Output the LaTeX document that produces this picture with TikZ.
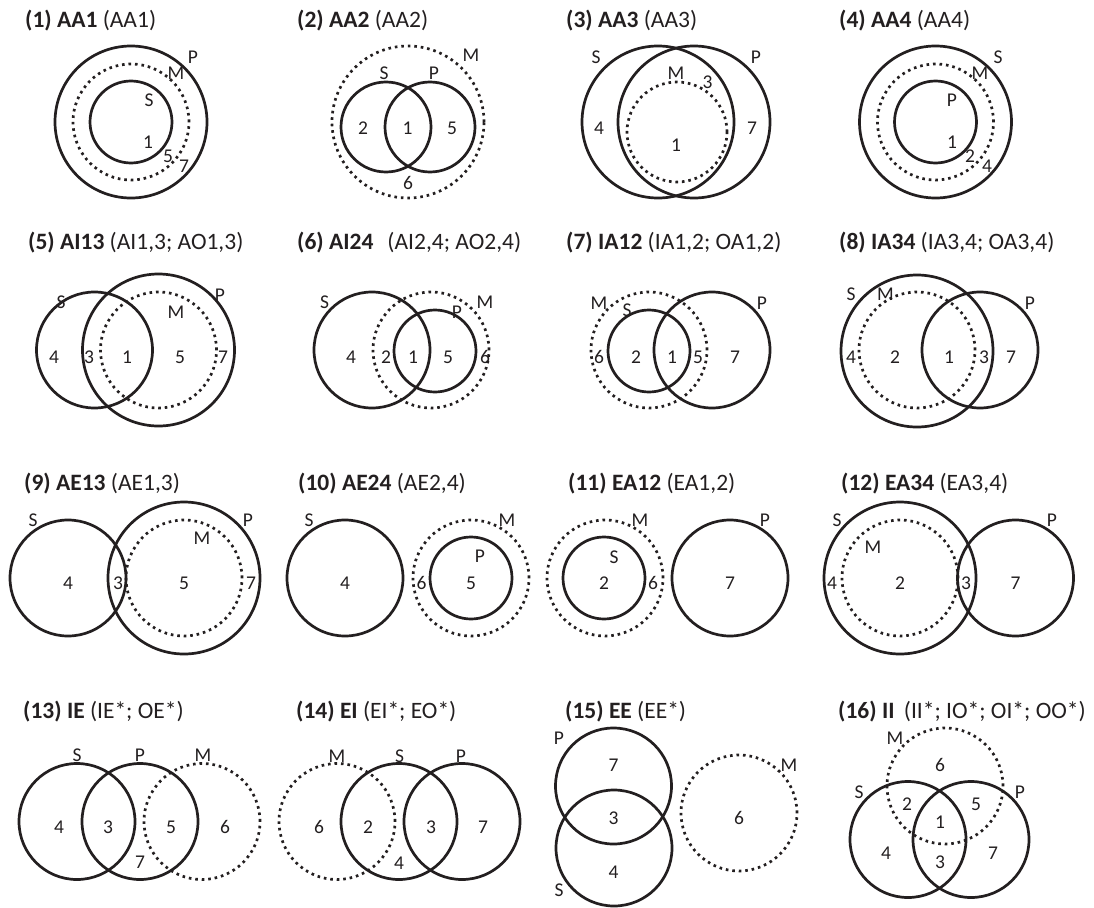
\documentclass[tikz,border=0pt]{standalone}
\usepackage{fontspec}
\setmainfont{Carlito}
\definecolor{ink}{RGB}{35,31,32}

\begin{document}
\begin{tikzpicture}[
    x=1pt, y=-1pt,
    term/.style={circle, draw=ink, line width=2.7pt, inner sep=0pt, minimum size=#1pt},
    mid/.style={term=#1, dash pattern=on 2.6pt off 3.9pt},
    lbl/.style={inner sep=0pt, text=ink, font=\fontsize{19.5}{22}\selectfont},
    ttl/.style={anchor=base west, inner sep=0pt, text=ink, font=\fontsize{23.5}{27}\selectfont}
]
    \useasboundingbox (0,0) rectangle (1094,907);

    % row 1: AA moods, circles of 152, 116 and 82 across
    \node[ttl] (t1) at (25,28) {\textbf{(1) AA1} (AA1)};
    \node[term=152] (P1) at (131,122) {};
    \node[mid=116]  (M1) at (131,122) {};
    \node[term=82]  (S1) at (131,122) {};
    \node[lbl] (P1t) at (193,57)  {P};
    \node[lbl] (M1t) at (176,73)  {M};
    \node[lbl] (S1t) at (149,100) {S};
    \node[lbl] (r1-1) at (148,142) {1};
    \node[lbl] (r1-5) at (168,156) {5};
    \node[lbl] (r1-7) at (184,166) {7};

    \node[ttl] (t2) at (297,28) {\textbf{(2) AA2} (AA2)};
    \node[mid=152] (M2) at (408,122) {};
    \node[term=90] (S2) at (386,127) {};
    \node[term=90] (P2) at (430,127) {};
    \node[lbl] (M2t) at (471,55) {M};
    \node[lbl] (S2t) at (384,73) {S};
    \node[lbl] (P2t) at (434,73) {P};
    \node[lbl] (r2-2) at (363,128) {2};
    \node[lbl] (r2-1) at (407.5,128) {1};
    \node[lbl] (r2-5) at (452,128) {5};
    \node[lbl] (r2-6) at (408,183) {6};

    \node[ttl] (t3) at (566,28) {\textbf{(3) AA3} (AA3)};
    \node[term=152] (S3) at (658,122) {};
    \node[term=152] (P3) at (694,122) {};
    \node[mid=100]  (M3) at (677,132) {};
    \node[lbl] (S3t) at (596,57) {S};
    \node[lbl] (P3t) at (756,57) {P};
    \node[lbl] (M3t) at (676,73) {M};
    \node[lbl] (r3-3) at (707.5,82) {3};
    \node[lbl] (r3-4) at (599,128) {4};
    \node[lbl] (r3-7) at (752,128) {7};
    \node[lbl] (r3-1) at (676,145) {1};

    \node[ttl] (t4) at (839,28) {\textbf{(4) AA4} (AA4)};
    \node[term=152] (S4) at (935.5,122) {};
    \node[mid=116]  (M4) at (935.5,122) {};
    \node[term=82]  (P4) at (935.5,122) {};
    \node[lbl] (S4t) at (998,57) {S};
    \node[lbl] (M4t) at (980,73) {M};
    \node[lbl] (P4t) at (952,100) {P};
    \node[lbl] (r4-1) at (952,142) {1};
    \node[lbl] (r4-2) at (970,156) {2};
    \node[lbl] (r4-4) at (987,166) {4};

    % row 2: AI and IA
    \node[ttl] (t5) at (28,249) {\textbf{(5) AI13} (AI1,3; AO1,3)};
    \node[term=152] (P5) at (158.5,350) {};
    \node[mid=116]  (M5) at (158.5,350) {};
    \node[term=116] (S5) at (94.5,350) {};
    \node[lbl] (S5t) at (61,302) {S};
    \node[lbl] (P5t) at (220,295) {P};
    \node[lbl] (M5t) at (176,312) {M};
    \node[lbl] (r5-4) at (54,357) {4};
    \node[lbl] (r5-3) at (89,357) {3};
    \node[lbl] (r5-1) at (127,357) {1};
    \node[lbl] (r5-5) at (180,357) {5};
    \node[lbl] (r5-7) at (223,357) {7};

    \node[ttl] (t6) at (297,249) {\textbf{(6) AI24}\hspace{0.6em}(AI2,4; AO2,4)};
    \node[term=116] (S6) at (372,350) {};
    \node[mid=116]  (M6) at (431,350) {};
    \node[term=82]  (P6) at (435,351) {};
    \node[lbl] (S6t) at (324.5,302) {S};
    \node[lbl] (M6t) at (485,302) {M};
    \node[lbl] (P6t) at (457,312) {P};
    \node[lbl] (r6-4) at (351,357) {4};
    \node[lbl] (r6-2) at (386,357) {2};
    \node[lbl] (r6-1) at (413,357) {1};
    \node[lbl] (r6-5) at (448,357) {5};
    \node[lbl] (r6-6) at (485,357) {6};

    \node[ttl] (t7) at (566,249) {\textbf{(7) IA12} (IA1,2; OA1,2)};
    \node[mid=116]  (M7) at (649,350) {};
    \node[term=82]  (S7) at (649,351) {};
    \node[term=116] (P7) at (712,350) {};
    \node[lbl] (M7t) at (599,303) {M};
    \node[lbl] (S7t) at (627,310) {S};
    \node[lbl] (P7t) at (762,303) {P};
    \node[lbl] (r7-6) at (599,357) {6};
    \node[lbl] (r7-2) at (636,357) {2};
    \node[lbl] (r7-1) at (672,357) {1};
    \node[lbl] (r7-5) at (698,357) {5};
    \node[lbl] (r7-7) at (735,357) {7};

    \node[ttl] (t8) at (839,249) {\textbf{(8) IA34} (IA3,4; OA3,4)};
    \node[term=152] (S8) at (917,351) {};
    \node[mid=116]  (M8) at (917,350) {};
    \node[term=116] (P8) at (980,350) {};
    \node[lbl] (S8t) at (851,294) {S};
    \node[lbl] (M8t) at (885.5,294) {M};
    \node[lbl] (P8t) at (1030,303) {P};
    \node[lbl] (r8-4) at (851,357) {4};
    \node[lbl] (r8-2) at (895,357) {2};
    \node[lbl] (r8-1) at (949,357) {1};
    \node[lbl] (r8-3) at (984,357) {3};
    \node[lbl] (r8-7) at (1011,357) {7};

    % row 3: AE and EA
    \node[ttl] (t9) at (24,490) {\textbf{(9) AE13} (AE1,3)};
    \node[term=116] (S9) at (68,578) {};
    \node[term=152] (P9) at (184,578) {};
    \node[mid=116]  (M9) at (184,578) {};
    \node[lbl] (S9t) at (33,520) {S};
    \node[lbl] (P9t) at (248,520) {P};
    \node[lbl] (M9t) at (202,538) {M};
    \node[lbl] (r9-4) at (68,583) {4};
    \node[lbl] (r9-3) at (118,583) {3};
    \node[lbl] (r9-5) at (184,583) {5};
    \node[lbl] (r9-7) at (251,583) {7};

    \node[ttl] (t10) at (298,490) {\textbf{(10) AE24} (AE2,4)};
    \node[term=116] (S10) at (345,578) {};
    \node[mid=116]  (M10) at (471,578) {};
    \node[term=82]  (P10) at (471,578) {};
    \node[lbl] (S10t) at (309,520) {S};
    \node[lbl] (M10t) at (507,520) {M};
    \node[lbl] (P10t) at (480,556) {P};
    \node[lbl] (r10-4) at (345,583) {4};
    \node[lbl] (r10-6) at (421.5,583) {6};
    \node[lbl] (r10-5) at (471,583) {5};

    \node[ttl] (t11) at (568,490) {\textbf{(11) EA12} (EA1,2)};
    \node[mid=116]  (M11) at (605,578) {};
    \node[term=82]  (S11) at (604,578) {};
    \node[term=116] (P11) at (730,578) {};
    \node[lbl] (M11t) at (640,520) {M};
    \node[lbl] (P11t) at (765,520) {P};
    \node[lbl] (S11t) at (614,557) {S};
    \node[lbl] (r11-2) at (604,583) {2};
    \node[lbl] (r11-6) at (653,583) {6};
    \node[lbl] (r11-7) at (730,583) {7};

    \node[ttl] (t12) at (841,490) {\textbf{(12) EA34} (EA3,4)};
    \node[term=152] (S12) at (900,578) {};
    \node[mid=116]  (M12) at (900,578) {};
    \node[term=116] (P12) at (1015.5,578) {};
    \node[lbl] (S12t) at (837,520) {S};
    \node[lbl] (P12t) at (1052,520) {P};
    \node[lbl] (M12t) at (873,547) {M};
    \node[lbl] (r12-4) at (832,583) {4};
    \node[lbl] (r12-2) at (900,583) {2};
    \node[lbl] (r12-3) at (966,583) {3};
    \node[lbl] (r12-7) at (1015.5,583) {7};

    % row 4: the starred moods
    \node[ttl] (t13) at (23,718) {\textbf{(13) IE} (IE*; OE*)};
    \node[term=116] (S13) at (77,821.5) {};
    \node[term=116] (P13) at (140,821.5) {};
    \node[mid=116]  (M13) at (202,821.5) {};
    \node[lbl] (S13t) at (77,755) {S};
    \node[lbl] (P13t) at (140,755) {P};
    \node[lbl] (M13t) at (203,755) {M};
    \node[lbl] (r13-4) at (59,827) {4};
    \node[lbl] (r13-3) at (108,827) {3};
    \node[lbl] (r13-5) at (171,827) {5};
    \node[lbl] (r13-6) at (225,827) {6};
    \node[lbl] (r13-7) at (140,862) {7};

    \node[ttl] (t14) at (296,718) {\textbf{(14) EI} (EI*; EO*)};
    \node[mid=116]  (M14) at (337,821.5) {};
    \node[term=116] (S14) at (399,821.5) {};
    \node[term=116] (P14) at (462,821.5) {};
    \node[lbl] (M14t) at (337,756) {M};
    \node[lbl] (S14t) at (399.5,756) {S};
    \node[lbl] (P14t) at (461,756) {P};
    \node[lbl] (r14-6) at (319,827) {6};
    \node[lbl] (r14-2) at (368,827) {2};
    \node[lbl] (r14-3) at (431,827) {3};
    \node[lbl] (r14-7) at (483,827) {7};
    \node[lbl] (r14-4) at (399,863) {4};

    \node[ttl] (t15) at (565,718) {\textbf{(15) EE} (EE*)};
    \node[term=116] (P15) at (613.5,786) {};
    \node[term=116] (S15) at (614,848) {};
    \node[mid=116]  (M15) at (739,813) {};
    \node[lbl] (P15t) at (559,738) {P};
    \node[lbl] (S15t) at (559,890) {S};
    \node[lbl] (M15t) at (789,765) {M};
    \node[lbl] (r15-7) at (613.5,765) {7};
    \node[lbl] (r15-3) at (613.5,818) {3};
    \node[lbl] (r15-4) at (613.5,872) {4};
    \node[lbl] (r15-6) at (739,818) {6};

    \node[ttl] (t16) at (838,718) {\textbf{(16) II}\hspace{0.4em}(II*; IO*; OI*; OO*)};
    \node[mid=116]  (M16) at (945,786) {};
    \node[term=116] (S16) at (908,839.5) {};
    \node[term=116] (P16) at (971,839.5) {};
    \node[lbl] (M16t) at (895,738) {M};
    \node[lbl] (S16t) at (859,792) {S};
    \node[lbl] (P16t) at (1020,792) {P};
    \node[lbl] (r16-6) at (940,765) {6};
    \node[lbl] (r16-2) at (907,804) {2};
    \node[lbl] (r16-5) at (976,804) {5};
    \node[lbl] (r16-1) at (940,822) {1};
    \node[lbl] (r16-4) at (886,853) {4};
    \node[lbl] (r16-3) at (940,862) {3};
    \node[lbl] (r16-7) at (993,853) {7};
\end{tikzpicture}
\end{document}
